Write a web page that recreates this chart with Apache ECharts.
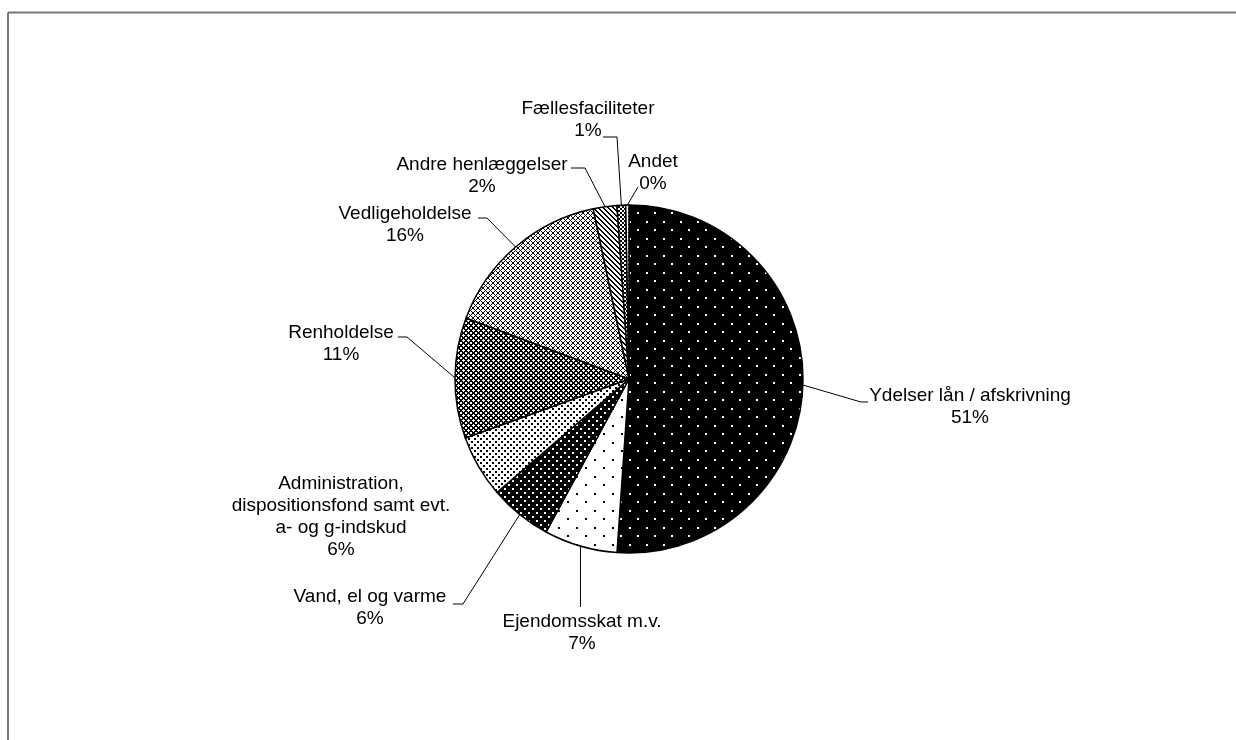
<!DOCTYPE html>
<html><head><meta charset="utf-8">
<script src="https://cdn.jsdelivr.net/npm/echarts@6/dist/echarts.min.js"></script>
<style>html,body{margin:0;padding:0;background:#fff}#c{width:1236px;height:740px}</style>
</head><body><div id="c"></div>
<script>
// ---- data ----
const categories = [
  'Ydelser lån / afskrivning',
  'Ejendomsskat m.v.',
  'Vand, el og varme',
  'Administration,\ndispositionsfond samt evt.\na- og g-indskud',
  'Renholdelse',
  'Vedligeholdelse',
  'Andre henlæggelser',
  'Fællesfaciliteter',
  'Andet'
];
const shares = [51.1, 6.8, 5.8, 5.8, 11.2, 16.0, 2.2, 0.8, 0.3];

// ---- layout (label block centres and leader-line bends) ----
const labelCenters = [
  [970, 407], [582, 633], [370, 608], [341, 517], [341, 344],
  [405, 225], [482, 176], [588, 120], [653, 173]
];
const leaderBends = [
  [[861, 402], [868, 402]],
  [[null, 607]],
  [[463, 604], [453, 604]],
  null,
  [[407, 337], [398, 337]],
  [[487, 218], [478, 218]],
  [[585, 168], [571, 168]],
  [[617, 137], [603, 137]],
  [[638, 187]]
];

// ---- fill patterns ----
function tile(w, h, bg, fg, test) {
  const c = document.createElement('canvas');
  c.width = w; c.height = h;
  const g = c.getContext('2d');
  g.fillStyle = bg; g.fillRect(0, 0, w, h);
  g.fillStyle = fg;
  for (let y = 0; y < h; y++) for (let x = 0; x < w; x++) if (test(x, y)) g.fillRect(x, y, 1, 1);
  return { image: c, repeat: 'repeat' };
}
function dots(w, h, bg, fg, pts, s) {
  return tile(w, h, bg, fg, (x, y) => pts.some(p => x >= p[0] && x < p[0] + s && y >= p[1] && y < p[1] + s));
}
const fills = [
  dots(17, 17, '#000', '#fff', [[0, 0], [8, 8]], 2),
  dots(18, 17, '#fff', '#000', [[0, 0], [9, 8]], 2),
  dots(8, 8, '#000', '#fff', [[0, 0], [4, 4]], 2),
  dots(6, 6, '#fff', '#000', [[0, 0], [3, 3]], 2),
  tile(5, 5, '#fff', '#000', (x, y) => ((x + y) % 5 < 2) || ((x - y + 50) % 5 < 2)),
  tile(5, 5, '#fff', '#000', (x, y) => ((x + y) % 5 < 1) || ((x - y + 50) % 5 < 1)),
  tile(5, 5, '#fff', '#000', (x, y) => ((x - y + 50) % 5 < 2)),
  tile(4, 4, '#fff', '#000', (x, y) => ((Math.floor(x / 2) + Math.floor(y / 2)) % 2 === 0)),
  dots(4, 4, '#fff', '#000', [[0, 0]], 1)
];

const data = categories.map((name, i) => ({
  name: name,
  value: shares[i],
  itemStyle: { color: fills[i] },
  labelLine: { show: leaderBends[i] !== null }
}));

const chart = echarts.init(document.getElementById('c'), null, { renderer: 'canvas' });
chart.setOption({
  animation: false,
  backgroundColor: '#fff',
  graphic: [
    { type: 'line', shape: { x1: 8, y1: 12.5, x2: 1236, y2: 12.5 }, style: { stroke: '#777', lineWidth: 2 } },
    { type: 'line', shape: { x1: 8, y1: 12.5, x2: 8, y2: 740 }, style: { stroke: '#777', lineWidth: 2 } }
  ],
  series: [{
    type: 'pie',
    center: [629, 379],
    radius: [0, 174],
    startAngle: 90,
    clockwise: true,
    avoidLabelOverlap: false,
    itemStyle: { borderColor: '#000', borderWidth: 1.5 },
    emphasis: { disabled: true },
    label: {
      show: true,
      position: 'outside',
      formatter: p => p.name + '\n' + Math.round(p.percent) + '%',
      fontFamily: 'Liberation Sans, Arial, sans-serif',
      fontSize: 19,
      lineHeight: 22,
      color: '#000',
      align: 'center'
    },
    labelLine: { show: true, length: 20, length2: 10, lineStyle: { color: '#000', width: 1 } },
    labelLayout: function (params) {
      const i = params.dataIndex;
      const c = labelCenters[i];
      const out = { x: c[0], y: c[1], align: 'center', verticalAlign: 'middle' };
      const b = leaderBends[i];
      if (b && params.labelLinePoints) {
        const start = params.labelLinePoints[0];
        const pts = [start.slice()];
        b.forEach(p => pts.push([p[0] === null ? start[0] : p[0], p[1]]));
        out.labelLinePoints = pts;
      }
      return out;
    },
    data: data
  }]
});
</script>
</body></html>
